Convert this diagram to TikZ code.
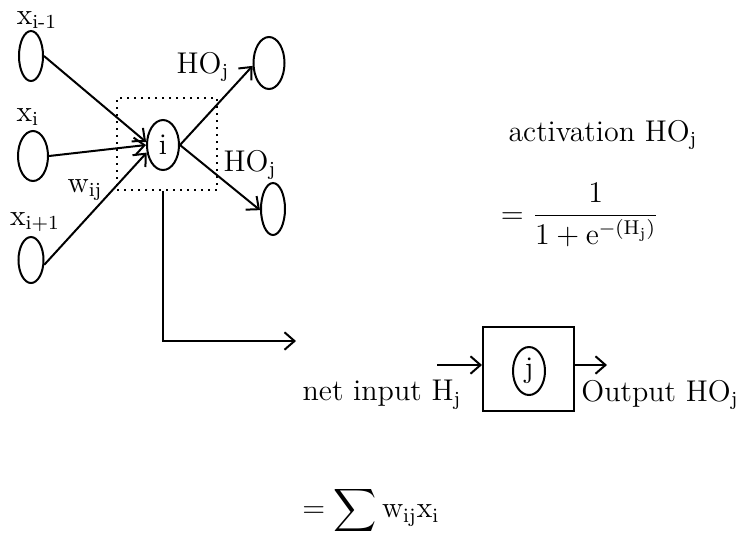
\documentclass[tikz,border=0pt]{standalone}
\usepackage{amsmath}
\usepackage{tikz}
\usetikzlibrary{shapes.geometric, arrows.meta, positioning, calc}
\tikzset{
  % Neuron diagram styles
  neuron/.style={ellipse, draw=black, thick, inner sep=0pt, minimum width=#1},
  neuron/.default={12pt},
  lbl/.style={inner sep=1pt},
  arrow/.style={-{Straight Barb[length=4pt, width=7pt]}, thick},
  unitbox/.style={rectangle, draw=black, thick, inner sep=0pt},
  hidbox/.style={rectangle, draw=black, dotted, thick, inner sep=0pt},
}

\begin{document}
\begin{tikzpicture}[x=0.4pt, y=-0.4pt, font=\fontsize{12}{14}\selectfont]
    \useasboundingbox (0,0) rectangle (741,536);
    % Input neurons and their labels
    \foreach \n/\x/\y/\w/\h in {xa/31/56/9.6pt/20pt, xb/33/156/12pt/20pt, xc/31/260/10pt/18.4pt} {
      \node[neuron=\w, minimum height=\h] (\n) at (\x,\y) {};
    }
    \node[lbl] (lxa) at (37,20) {x$_\text{i-1}$};
    \node[lbl] (lxb) at (28,117) {x$_\text{i}$};
    \node[lbl] (lxc) at (35,222) {x$_\text{i+1}$};
    % Hidden unit i inside the dotted box
    \node[hidbox, minimum width=40pt, minimum height=36.8pt] (hid) at (167,144) {};
    \node[neuron=12.8pt, minimum height=20pt] (i) at (163,145) {i};
    \node[lbl] (w) at (85,190) {w$_\text{ij}$};
    % Output neurons
    \node[neuron=12.4pt, minimum height=20.8pt] (oa) at (269,63) {};
    \node[neuron=9.6pt, minimum height=20.8pt] (ob) at (273,209) {};
    \node[lbl] (loa) at (203,67) {HO$_\text{j}$};
    \node[lbl] (lob) at (250,165) {HO$_\text{j}$};
    % Connections
    \draw[arrow] (xa.east) -- (i.170);
    \draw[arrow] (xb.east) -- (i.180);
    \draw[arrow] (xc.-20) -- (i.205);
    \draw[arrow] (i.east) -- (oa.190);
    \draw[arrow] (i.east) -- (ob.185);
    % Zoom into unit j
    \coordinate (hend) at (296,341);
    \draw[arrow] (i |- hid.south) |- (hend);
    \node[unitbox, minimum width=36.4pt, minimum height=33.6pt] (jbox) at (528.5,369) {};
    \node[neuron=12.8pt, minimum height=19.2pt] (j) at (529,371) {j};
    \coordinate (jin) at (437,365);
    \coordinate (jout) at (607,365);
    \draw[arrow] (jin) -- (jin -| jbox.west);
    \draw[arrow] (jbox.east |- jout) -- (jout);
    \node[lbl] (net) at (382,395) {net input H$_\text{j}$};
    \node[lbl] (out) at (660,395) {Output HO$_\text{j}$};
    % Formulas
    \node[lbl] (act) at (603,135) {activation HO$_\text{j}$};
    \node[lbl] (sig) at (580,215) {$=\dfrac{1}{1+\mathrm{e}^{-(\mathrm{H}_\mathrm{j})}}$};
    \node[lbl] (sum) at (371,510) {$=\displaystyle\sum \mathrm{w}_\mathrm{ij}\mathrm{x}_\mathrm{i}$};
\end{tikzpicture}
\end{document}
